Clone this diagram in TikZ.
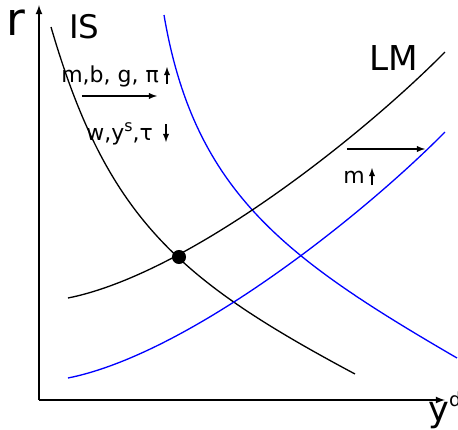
\documentclass[tikz,border=0pt]{standalone}
\usepackage{fontspec}
\setmainfont{DejaVu Sans}
\begin{document}
\begin{tikzpicture}[x=0.02cm, y=-0.02cm,
    lbl/.style={anchor=base west, inner sep=0pt},
    curva/.style={line width=0.75pt}]
    \useasboundingbox (0,0) rectangle (458,430);

    %assi
    \coordinate (O) at (39,400);
    \coordinate (ytop) at (39,5);
    \coordinate (xend) at (445,400);
    \draw[line width=0.8pt, -latex] (O) -- (ytop);
    \draw[line width=0.8pt, -latex] (O) -- (xend);
    \node[lbl, font=\fontsize{26}{26}\selectfont] (r) at (6,35) {r};
    \node[lbl, font=\fontsize{20}{20}\selectfont] (yd) at (428,421) {y\raisebox{8pt}{\fontsize{11}{11}\selectfont d}};

    %curve IS e LM
    \draw[curva] (51,27) .. controls (107,219) and (179,280) .. (355,374);
    \draw[curva, blue] (164,15) .. controls (194,192) and (285,258) .. (457,358);
    \draw[curva] (68,298) .. controls (188,274) and (361,137) .. (445,52);
    \draw[curva, blue] (68,378) .. controls (188,354) and (361,217) .. (445,132);
    \node[circle, fill, inner sep=0pt, minimum size=8pt] (E) at (179,257) {};

    %etichette
    \node[lbl, font=\fontsize{18.5}{19}\selectfont] (IS) at (69,38) {IS};
    \node[lbl, font=\fontsize{19.5}{20}\selectfont] (LM) at (369,70) {LM};
    \node[lbl, font=\fontsize{12.5}{13}\selectfont] (shiftIS) at (61,82) {m,b, g, π};
    \node[lbl, font=\fontsize{12.5}{13}\selectfont] (downIS) at (86,140) {w,y\raisebox{5pt}{\fontsize{9}{9}\selectfont s},τ};
    \node[lbl, font=\fontsize{12.5}{13}\selectfont] (shiftLM) at (343,183) {m};

    %frecce
    \coordinate (a1) at (82,96);  \coordinate (b1) at (157,96);
    \coordinate (a2) at (347,149); \coordinate (b2) at (425,149);
    \draw[line width=0.6pt, -latex] (a1) -- (b1);
    \draw[line width=0.6pt, -latex] (a2) -- (b2);
    \coordinate (u1) at (167,84); \coordinate (v1) at (167,67);
    \coordinate (u2) at (166,124); \coordinate (v2) at (166,142);
    \coordinate (u3) at (372,185); \coordinate (v3) at (372,168);
    \draw[line width=0.6pt, -latex] (u1) -- (v1);
    \draw[line width=0.6pt, -latex] (u2) -- (v2);
    \draw[line width=0.6pt, -latex] (u3) -- (v3);
\end{tikzpicture}
\end{document}
